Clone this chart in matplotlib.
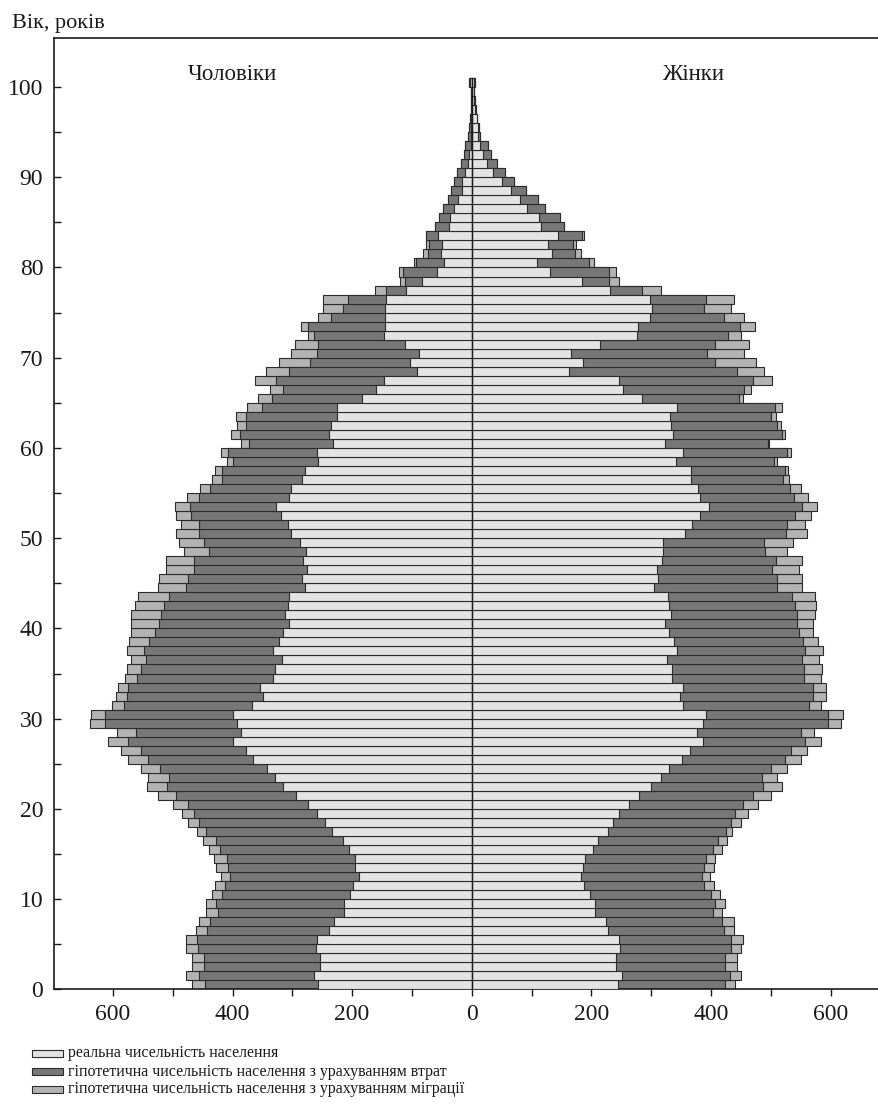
import matplotlib
matplotlib.use("Agg")
import matplotlib.pyplot as plt
from matplotlib.patches import Rectangle
from matplotlib.ticker import FixedLocator, FuncFormatter

plt.rcParams['font.family'] = ['Liberation Serif', 'DejaVu Serif']

ages = list(range(101))

male_real = [257, 264, 254, 253, 260, 259, 239, 231, 214, 214, 204, 198, 189, 195, 196, 206, 215, 234, 246, 258,
             273, 294, 316, 329, 343, 366, 377, 399, 385, 393, 399, 367, 349, 354, 332, 329, 317, 332, 323, 316,
             306, 312, 308, 306, 278, 283, 275, 282, 277, 287, 303, 308, 319, 327, 306, 302, 283, 278, 257, 259,
             232, 238, 235, 226, 226, 183, 160, 147, 92, 104, 89, 112, 147, 145, 145, 145, 143, 110, 83, 58,
             46, 51, 50, 56, 38, 36, 29, 23, 17, 17, 11, 7, 4, 2, 2, 1, 1, 1, 1, 1, 3]
male_losses = [446, 456, 448, 448, 457, 460, 442, 438, 425, 427, 418, 412, 405, 408, 409, 421, 428, 445, 456, 464,
               474, 494, 509, 506, 521, 541, 553, 574, 561, 614, 613, 581, 577, 574, 559, 553, 545, 548, 539, 530,
               523, 520, 514, 506, 477, 474, 464, 464, 440, 447, 456, 456, 469, 471, 456, 438, 418, 417, 399, 407,
               373, 387, 377, 378, 350, 334, 316, 328, 306, 271, 259, 257, 264, 274, 235, 215, 207, 143, 112, 115,
               94, 73, 71, 76, 62, 54, 48, 40, 35, 29, 24, 18, 13, 11, 7, 4, 3, 2, 2, 2, 4]
male_migr = [467, 477, 468, 468, 478, 478, 461, 456, 444, 444, 435, 429, 420, 428, 431, 439, 449, 460, 474, 484,
             500, 524, 543, 541, 553, 574, 587, 608, 593, 639, 636, 601, 594, 591, 579, 577, 569, 577, 573, 569,
             569, 569, 563, 558, 524, 523, 511, 511, 481, 489, 494, 486, 495, 496, 476, 454, 434, 430, 409, 420,
             385, 402, 392, 395, 375, 357, 337, 363, 344, 323, 303, 295, 274, 286, 257, 249, 249, 162, 120, 121,
             97, 81, 76, 76, 62, 54, 48, 40, 35, 29, 24, 18, 13, 11, 7, 4, 3, 2, 2, 2, 4]

female_real = [245, 252, 242, 241, 248, 246, 228, 225, 206, 206, 198, 188, 183, 186, 189, 202, 211, 228, 237, 247,
               263, 280, 300, 316, 330, 352, 365, 386, 377, 386, 391, 354, 348, 354, 335, 335, 326, 344, 339, 330,
               323, 333, 330, 329, 305, 311, 309, 318, 319, 319, 357, 369, 382, 396, 382, 379, 366, 366, 342, 354,
               323, 337, 333, 331, 343, 284, 253, 246, 162, 186, 166, 214, 277, 278, 298, 301, 298, 232, 184, 131,
               109, 134, 127, 145, 116, 112, 92, 81, 65, 50, 35, 26, 19, 14, 11, 10, 8, 6, 4, 3, 4]
female_losses = [423, 432, 423, 423, 433, 433, 421, 419, 404, 407, 400, 389, 385, 389, 391, 404, 412, 426, 433, 441,
                 454, 471, 487, 486, 500, 523, 534, 558, 550, 596, 596, 564, 570, 570, 555, 555, 552, 557, 554, 548,
                 544, 544, 540, 535, 511, 511, 502, 509, 490, 489, 526, 528, 540, 552, 539, 532, 521, 523, 506, 528,
                 495, 519, 511, 501, 507, 447, 455, 471, 443, 407, 394, 407, 429, 449, 421, 389, 391, 284, 230, 230,
                 196, 173, 170, 184, 155, 148, 123, 111, 91, 71, 55, 43, 33, 28, 14, 12, 9, 7, 5, 4, 5]
female_migr = [441, 450, 443, 443, 450, 454, 438, 438, 418, 423, 415, 405, 399, 405, 407, 419, 427, 436, 451, 462,
               478, 500, 518, 511, 528, 550, 561, 584, 573, 617, 620, 584, 592, 593, 584, 585, 580, 588, 579, 571,
               571, 574, 575, 574, 553, 553, 548, 553, 528, 538, 561, 557, 568, 578, 562, 550, 531, 529, 511, 534,
               497, 524, 517, 508, 519, 453, 467, 502, 489, 475, 456, 464, 451, 473, 456, 433, 439, 316, 246, 241,
               204, 183, 174, 187, 155, 148, 123, 111, 91, 71, 55, 43, 33, 28, 14, 12, 9, 7, 5, 4, 5]

x_tick_labels = ['600', '400', '200', '0', '200', '400', '600']
y_tick_labels = ['0', '10', '20', '30', '40', '50', '60', '70', '80', '90', '100']
legend_labels = ['реальна чисельність населення',
                 'гіпотетична чисельність населення з урахуванням втрат',
                 'гіпотетична чисельність населення з урахуванням міграції']
side_titles = ['Чоловіки', 'Жінки']

C_REAL = '#e3e3e3'
C_LOSS = '#777777'
C_MIGR = '#b3b3b3'
EDGE = '#2b2b2b'

W, H = 879, 1113
fig = plt.figure(figsize=(W / 100, H / 100), dpi=100)
ax = fig.add_axes([54.3 / W, (H - 989.3) / H, (W - 54.3) / W, (989.3 - 38.3) / H])

lw = 0.8
for vals, col, z in [(male_migr, C_MIGR, 1), (male_losses, C_LOSS, 2), (male_real, C_REAL, 3)]:
    ax.barh(ages, [-v for v in vals], height=1.0, left=0, align='edge',
            color=col, edgecolor=EDGE, linewidth=lw, zorder=z)
for vals, col, z in [(female_migr, C_MIGR, 1), (female_losses, C_LOSS, 2), (female_real, C_REAL, 3)]:
    ax.barh(ages, vals, height=1.0, left=0, align='edge',
            color=col, edgecolor=EDGE, linewidth=lw, zorder=z)

ax.plot([0, 0], [0, 101], color='#1a1a1a', lw=1.0, zorder=4)

ax.set_xlim(-698, 681)
ax.set_ylim(0, 105.4)

ax.spines['right'].set_visible(False)
for s in ['left', 'top', 'bottom']:
    ax.spines[s].set_linewidth(1.2)
    ax.spines[s].set_color('#1a1a1a')

xt = [-600, -400, -200, 0, 200, 400, 600]
ax.set_xticks(xt)
ax.set_xticklabels(x_tick_labels)
ax.xaxis.set_minor_locator(FixedLocator([-500, -300, -100, 100, 300, 500]))
ax.set_yticks(list(range(0, 101, 10)))
ax.set_yticklabels(y_tick_labels)
ax.yaxis.set_minor_locator(FixedLocator(list(range(5, 100, 10))))

ax.tick_params(axis='x', which='both', direction='out', length=5.3, width=1.0,
               labelsize=17, pad=5, colors='#1a1a1a')
ax.tick_params(axis='y', which='both', direction='in', length=5.3, width=1.0,
               labelsize=17, pad=8, colors='#1a1a1a')
ax.tick_params(top=False, right=False)

ax.text(-400, 100.8, side_titles[0], ha='center', va='baseline', fontsize=16.5, color='#1a1a1a')
ax.text(370, 100.8, side_titles[1], ha='center', va='baseline', fontsize=16.5, color='#1a1a1a')

fig.text(12 / W, 1 - 28 / H, 'Вік, років', ha='left', va='baseline', fontsize=16, color='#1a1a1a')

# legend drawn manually
row_y = [1053.3, 1071.7, 1089.3]
for lab, col, yc in zip(legend_labels, [C_REAL, C_LOSS, C_MIGR], row_y):
    fig.patches.append(Rectangle((32 / W, 1 - (yc + 3.5) / H), 31 / W, 7 / H,
                                 transform=fig.transFigure, facecolor=col,
                                 edgecolor=EDGE, linewidth=0.8))
    fig.text(68 / W, 1 - yc / H, lab, ha='left', va='center', fontsize=11.5, color='#1a1a1a')

fig.savefig('out.png', dpi=100)
